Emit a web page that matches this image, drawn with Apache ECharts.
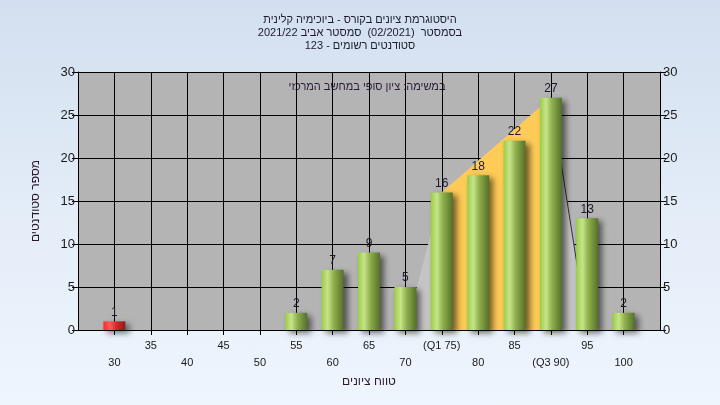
<!DOCTYPE html>
<html>
<head>
<meta charset="utf-8">
<script src="https://cdn.jsdelivr.net/npm/echarts@6/dist/echarts.min.js"></script>
<style>
html,body{margin:0;padding:0;}
body{width:720px;height:405px;background:linear-gradient(to bottom,#d3dff0 0%,#e4edf8 55%,#eef5fd 100%);}
#c{width:720px;height:405px;}
</style>
</head>
<body>
<div id="c"></div>
<script>
// Data
const grades = [30, 35, 40, 45, 50, 55, 60, 65, 70, 75, 80, 85, 90, 95, 100];
const counts = [1, 0, 0, 0, 0, 2, 7, 9, 5, 16, 18, 22, 27, 13, 2];
const tickLabels = {75: '(Q1 75)', 90: '(Q3 90)'};
const failGrade = 30;
const curveX = [70, 75, 90, 95];
const curveY = [0, 16, 27, 0];
const q1 = 75, q3 = 90;
const titleLines = [
  'היסטוגרמת ציונים בקורס - ביוכימיה קלינית',
  'בסמסטר  (02/2021)  סמסטר אביב 2021/22',
  'סטודנטים רשומים - 123'
];
const note = 'במשימה: ציון סופי במחשב המרכזי';
const yName = 'מספר סטודנטים';
const xName = 'טווח ציונים';

const FONT = '"Liberation Sans", Arial, "DejaVu Sans", sans-serif';

const greenGrad = new echarts.graphic.LinearGradient(0, 0, 1, 0, [
  {offset: 0, color: '#9ccc44'},
  {offset: 0.28, color: '#c6e48a'},
  {offset: 0.55, color: '#8fb04c'},
  {offset: 1, color: '#56702a'}
]);
const redGrad = new echarts.graphic.LinearGradient(0, 0, 1, 0, [
  {offset: 0, color: '#ff2a2a'},
  {offset: 0.3, color: '#ff5a5a'},
  {offset: 0.6, color: '#d02828'},
  {offset: 1, color: '#8c1a1a'}
]);

const barData = [];
grades.forEach((g, i) => {
  if (counts[i] > 0) {
    barData.push({value: [g, counts[i]], itemStyle: {color: g === failGrade ? redGrad : greenGrad}});
  }
});
const curve = curveX.map((x, i) => [x, curveY[i]]);
const iqr = curve.filter(p => p[0] >= q1 && p[0] <= q3);
const tail = curve.filter(p => p[0] >= q3);

const chart = echarts.init(document.getElementById('c'), null, {renderer: 'canvas'});
const yAxisCommon = {
  type: 'value', min: 0, max: 30, interval: 5,
  axisLine: {show: true, lineStyle: {color: '#000', width: 1}},
  axisTick: {show: true, length: 6, lineStyle: {color: '#000'}},
  axisLabel: {color: '#1a1a1a', fontSize: 13, fontFamily: FONT, margin: 3},
  splitLine: {show: false}
};
chart.setOption({
  animation: false,
  title: {
    text: titleLines.join('\n'),
    left: 'center', top: 8,
    textStyle: {fontSize: 11, fontWeight: 'normal', color: '#1c1c2c', fontFamily: FONT, lineHeight: 13}
  },
  grid: {left: 78, right: 60, top: 72, bottom: 75, show: true, backgroundColor: '#b4b4b4', borderWidth: 0},
  xAxis: {
    type: 'value', min: 25, max: 105, interval: 5,
    name: xName, nameLocation: 'middle', nameGap: 45,
    nameTextStyle: {fontSize: 12, color: '#2a1a2a', fontFamily: FONT},
    axisLine: {show: true, onZero: false, lineStyle: {color: '#000', width: 1}},
    axisTick: {show: true, length: 5, lineStyle: {color: '#000'}},
    splitLine: {show: true, lineStyle: {color: '#000', width: 1}},
    axisLabel: {
      fontSize: 11, color: '#1a1a1a', fontFamily: FONT, margin: 7, lineHeight: 17,
      showMinLabel: false, showMaxLabel: false,
      formatter: function (v) {
        if (v < 30 || v > 100) return '';
        const t = tickLabels[v] || String(v);
        return ((v - 30) / 5) % 2 === 0 ? '\n' + t : t;
      }
    }
  },
  yAxis: [
    Object.assign({}, yAxisCommon, {
      position: 'left',
      name: yName, nameLocation: 'middle', nameGap: 36, nameRotate: 90,
      nameTextStyle: {fontSize: 12, color: '#2a1a2a', fontFamily: FONT},
      splitLine: {show: true, lineStyle: {color: '#000', width: 1}}
    }),
    Object.assign({}, yAxisCommon, {position: 'right'})
  ],
  series: [
    {
      type: 'line', data: curve, symbol: 'none', z: 1,
      lineStyle: {width: 0, opacity: 0},
      areaStyle: {color: '#c4c4c4', opacity: 1}
    },
    {
      type: 'line', data: iqr, symbol: 'none', z: 2,
      lineStyle: {width: 0, opacity: 0},
      areaStyle: {color: '#ffcb57', opacity: 1}
    },
    {
      type: 'line', data: tail, symbol: 'none', z: 3,
      lineStyle: {width: 1, color: '#333'}
    },
    {
      type: 'bar', data: barData, barWidth: 22, z: 5,
      itemStyle: {shadowColor: 'rgba(0,0,0,0.55)', shadowBlur: 6, shadowOffsetX: 4, shadowOffsetY: 3},
      label: {show: true, position: 'top', distance: 3, fontSize: 12, color: '#1a1a2a', fontFamily: FONT,
        formatter: p => p.value[1]}
    }
  ],
  graphic: [{
    type: 'text', x: 367, y: 81,
    style: {text: note, font: '11px ' + FONT, fill: '#2a1a3a', align: 'center'}
  }]
});
</script>
</body>
</html>
